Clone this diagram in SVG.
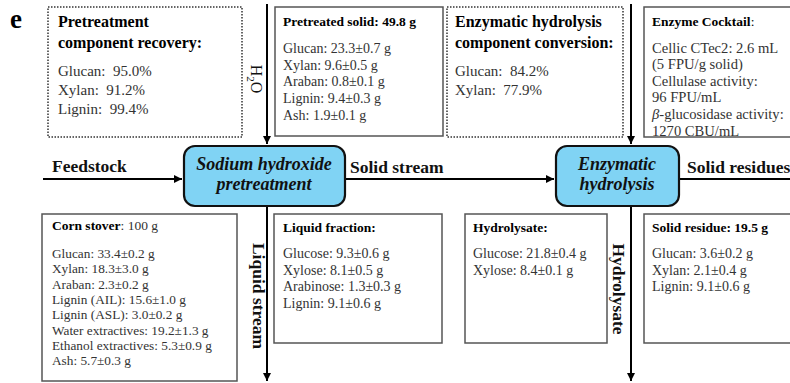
<svg xmlns="http://www.w3.org/2000/svg" width="790" height="383" viewBox="0 0 790 383">
<defs>
<marker id="ah" viewBox="0 0 10 10" refX="10" refY="5" markerWidth="8" markerHeight="8" markerUnits="userSpaceOnUse" orient="auto"><path d="M0,0 L10,5 L0,10 z" fill="#000"/></marker>
<style>
text{font-family:"Liberation Serif","Times New Roman",serif;}
.box{fill:#fff;stroke:#555;stroke-width:1.5}
.dot{fill:#fff;stroke:#333;stroke-width:1.5;stroke-dasharray:1.5 1.5}
.proc{fill:#80d3f4;stroke:#111;stroke-width:2.2}
.conn{stroke:#000;stroke-width:2;fill:none}
.b{font-weight:bold;fill:#000}
.r{fill:#333}
.lab{font-weight:bold;font-size:17.5px;fill:#111}
.pt{font-weight:bold;font-style:italic;font-size:18px;fill:#111;text-anchor:middle}
.s15{font-size:15px}
.s14{font-size:14px}
.s145{font-size:14.6px}
.s13{font-size:13.3px}
.h16{font-size:16px}
.h13{font-size:13.5px}
</style>
</defs>

<text x="10" y="28" font-size="27" font-weight="bold" fill="#000">e</text>

<g id="connectors">
<line class="conn" x1="43" y1="179" x2="182" y2="179" marker-end="url(#ah)"/>
<line class="conn" x1="345" y1="179" x2="554" y2="179" marker-end="url(#ah)"/>
<line class="conn" x1="679" y1="179" x2="790" y2="179"/>
<line class="conn" x1="267" y1="4" x2="267" y2="144" marker-end="url(#ah)"/>
<line class="conn" x1="631" y1="4" x2="631" y2="144" marker-end="url(#ah)"/>
<line class="conn" x1="267" y1="206" x2="267" y2="381" marker-end="url(#ah)"/>
<line class="conn" x1="631" y1="206" x2="631" y2="381" marker-end="url(#ah)"/>
<text class="lab" x="52" y="172">Feedstock</text>
<text class="lab" x="350" y="173">Solid stream</text>
<text class="lab" x="687" y="173">Solid residues</text>
<text font-size="16" fill="#111" transform="translate(251,79) rotate(90)" text-anchor="middle">H<tspan font-size="11" dy="4">2</tspan><tspan dy="-4">O</tspan></text>
<text class="lab" transform="translate(253,296) rotate(90)" text-anchor="middle">Liquid stream</text>
<text class="lab" transform="translate(613,289) rotate(90)" text-anchor="middle">Hydrolysate</text>
</g>

<g id="pretreatment">
<rect class="proc" x="184" y="146" width="161" height="60" rx="11"/>
<text class="pt" x="264" y="170">Sodium hydroxide</text>
<text class="pt" x="264" y="190">pretreatment</text>
</g>

<g id="hydrolysis">
<rect class="proc" x="556" y="146" width="123" height="60" rx="11"/>
<text class="pt" x="617" y="170">Enzymatic</text>
<text class="pt" x="617" y="190">hydrolysis</text>
</g>

<g id="recovery">
<rect class="dot" x="48" y="7" width="194" height="130"/>
<text class="b h16" x="58" y="27">Pretreatment</text>
<text class="b h16" x="58" y="48">component recovery:</text>
<text class="r s15" x="58" y="76" xml:space="preserve">Glucan:  95.0%</text>
<text class="r s15" x="58" y="95" xml:space="preserve">Xylan:  91.2%</text>
<text class="r s15" x="58" y="114" xml:space="preserve">Lignin:  99.4%</text>
</g>

<g id="pretreated-solid">
<rect class="box" x="275" y="7" width="168" height="129"/>
<text class="b h13" x="283" y="26">Pretreated solid: 49.8 g</text>
<text class="r s14" x="283" y="53">Glucan: 23.3±0.7 g</text>
<text class="r s14" x="283" y="69.7">Xylan: 9.6±0.5 g</text>
<text class="r s14" x="283" y="86.4">Araban: 0.8±0.1 g</text>
<text class="r s14" x="283" y="103.1">Lignin: 9.4±0.3 g</text>
<text class="r s14" x="283" y="119.8">Ash: 1.9±0.1 g</text>
</g>

<g id="conversion">
<rect class="dot" x="447" y="7" width="176" height="130"/>
<text class="b h16" x="455" y="27">Enzymatic hydrolysis</text>
<text class="b h16" x="455" y="48">component conversion:</text>
<text class="r s15" x="455" y="76" xml:space="preserve">Glucan:  84.2%</text>
<text class="r s15" x="455" y="95" xml:space="preserve">Xylan:  77.9%</text>
</g>

<g id="enzyme-cocktail">
<text class="r s145" x="652" y="52.5">Cellic CTec2: 2.6 mL</text>
<text class="r s145" x="652" y="69">(5 FPU/g solid)</text>
<text class="r s145" x="652" y="85.5">Cellulase activity:</text>
<text class="r s145" x="652" y="102">96 FPU/mL</text>
<text class="r s145" x="652" y="118.5"><tspan font-style="italic">β</tspan>-glucosidase activity:</text>
<text class="r s145" x="652" y="135.5">1270 CBU/mL</text>
<rect class="box" x="644" y="7" width="160" height="130" style="fill:none"/>
<text class="h13" x="652" y="26" fill="#000"><tspan font-weight="bold">Enzyme Cocktail</tspan>:</text>
</g>

<g id="corn-stover">
<rect class="box" x="42" y="214" width="195" height="167"/>
<text class="h13" x="52" y="230" fill="#000"><tspan font-weight="bold">Corn stover</tspan><tspan fill="#333">: 100 g</tspan></text>
<text class="r s13" x="52" y="258">Glucan: 33.4±0.2 g</text>
<text class="r s13" x="52" y="273.3">Xylan: 18.3±3.0 g</text>
<text class="r s13" x="52" y="288.6">Araban: 2.3±0.2 g</text>
<text class="r s13" x="52" y="303.9">Lignin (AIL): 15.6±1.0 g</text>
<text class="r s13" x="52" y="319.2">Lignin (ASL): 3.0±0.2 g</text>
<text class="r s13" x="52" y="334.5">Water extractives: 19.2±1.3 g</text>
<text class="r s13" x="52" y="349.8">Ethanol extractives: 5.3±0.9 g</text>
<text class="r s13" x="52" y="365.1">Ash: 5.7±0.3 g</text>
</g>

<g id="liquid-fraction">
<rect class="box" x="274" y="214" width="168" height="129"/>
<text class="b h13" x="283" y="232">Liquid fraction:</text>
<text class="r s14" x="283" y="258">Glucose: 9.3±0.6 g</text>
<text class="r s14" x="283" y="274.7">Xylose: 8.1±0.5 g</text>
<text class="r s14" x="283" y="291.4">Arabinose: 1.3±0.3 g</text>
<text class="r s14" x="283" y="308.1">Lignin: 9.1±0.6 g</text>
</g>

<g id="hydrolysate">
<rect class="box" x="465" y="214" width="142" height="129"/>
<text class="b h13" x="473" y="232">Hydrolysate:</text>
<text class="r s14" x="473" y="258">Glucose: 21.8±0.4 g</text>
<text class="r s14" x="473" y="274.7">Xylose: 8.4±0.1 g</text>
</g>

<g id="solid-residue">
<rect class="box" x="644" y="214" width="160" height="129"/>
<text class="b h13" x="652" y="232">Solid residue: 19.5 g</text>
<text class="r s14" x="652" y="258">Glucan: 3.6±0.2 g</text>
<text class="r s14" x="652" y="274.7">Xylan: 2.1±0.4 g</text>
<text class="r s14" x="652" y="291.4">Lignin: 9.1±0.6 g</text>
</g>
</svg>
